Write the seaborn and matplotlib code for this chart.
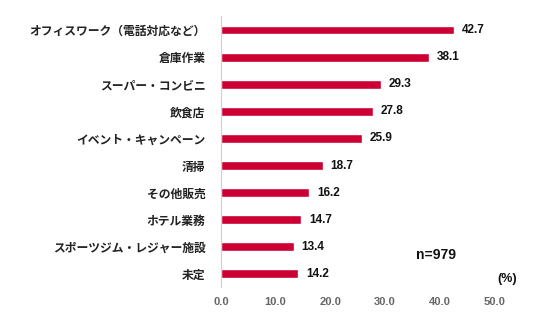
import matplotlib
matplotlib.use("Agg")
import matplotlib.pyplot as plt
import seaborn as sns
import pandas as pd

categories = [
    "オフィスワーク（電話対応など）",
    "倉庫作業",
    "スーパー・コンビニ",
    "飲食店",
    "イベント・キャンペーン",
    "清掃",
    "その他販売",
    "ホテル業務",
    "スポーツジム・レジャー施設",
    "未定",
]
values = [42.7, 38.1, 29.3, 27.8, 25.9, 18.7, 16.2, 14.7, 13.4, 14.2]
x_ticks = [0, 10, 20, 30, 40, 50]
sample_note = "n=979"
unit_note = "(%)"

sns.set_theme(style="white")
plt.rcParams["font.family"] = ["Noto Sans CJK JP", "DejaVu Sans"]
num_font = ["Liberation Sans", "DejaVu Sans"]

df = pd.DataFrame({"category": categories, "value": values})

fig = plt.figure(figsize=(5.36, 3.23), dpi=100)
ax = fig.add_axes([0.412, 0.110, 0.510, 0.839])

bar_color = "#CC0033"
sns.barplot(data=df, x="value", y="category", color=bar_color, width=0.33,
            saturation=1, ax=ax, orient="h")

ax.set_xlim(0, 50)
ax.set_ylim(9.5, -0.5)
ax.set_xticks(x_ticks)
ax.set_xticklabels([f"{t:.1f}" for t in x_ticks], fontsize=8,
                   color="#666666", fontweight="bold", family=num_font)
ax.tick_params(axis="x", length=0, pad=7)
ax.tick_params(axis="y", length=0, pad=11)
for lbl in ax.get_yticklabels():
    lbl.set_fontsize(8.5)
    lbl.set_color("#222222")
    lbl.set_fontweight("bold")
ax.set_xlabel("")
ax.set_ylabel("")

for s in ["top", "right", "bottom"]:
    ax.spines[s].set_visible(False)
ax.spines["left"].set_color("#D0D0D0")
ax.spines["left"].set_linewidth(0.8)

for i, v in enumerate(values):
    ax.text(v + 1.4, i, f"{v:.1f}", va="center", ha="left", fontsize=8.5,
            fontweight="bold", color="#111111", family=num_font)

ax.text(39.4, 8.3, sample_note, ha="center", va="center", fontsize=10,
        fontweight="bold", color="#111111", family=num_font)
ax.text(52.4, 9.2, unit_note, ha="center", va="center", fontsize=9,
        fontweight="bold", color="#111111", family=num_font, clip_on=False)

fig.savefig("out.png", dpi=100)
